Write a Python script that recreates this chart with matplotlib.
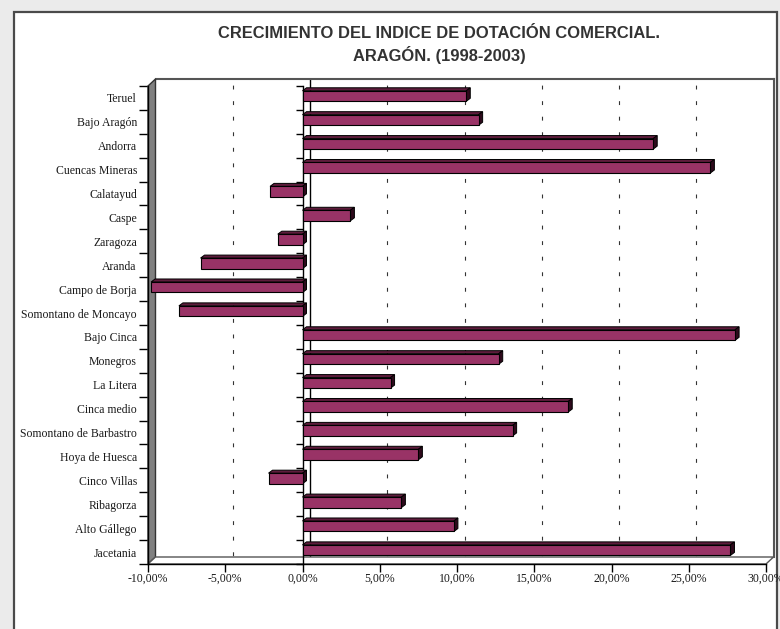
import numpy as np
import matplotlib
matplotlib.use("Agg")
import matplotlib.pyplot as plt
from matplotlib.patches import Polygon, Rectangle

# Data: growth of the commercial endowment index by comarca (%)
comarcas = ["Teruel", "Bajo Aragón", "Andorra", "Cuencas Mineras", "Calatayud", "Caspe",
            "Zaragoza", "Aranda", "Campo de Borja", "Somontano de Moncayo", "Bajo Cinca",
            "Monegros", "La Litera", "Cinca medio", "Somontano de Barbastro",
            "Hoya de Huesca", "Cinco Villas", "Ribagorza", "Alto Gállego", "Jacetania"]
crecimiento = [10.6, 11.4, 22.7, 26.4, -2.1, 3.1, -1.6, -6.6, -9.8, -8.0, 28.0,
               12.7, 5.7, 17.2, 13.6, 7.5, -2.2, 6.4, 9.8, 27.7]
x_ticks = [-10, -5, 0, 5, 10, 15, 20, 25, 30]
x_tick_labels = ["-10,00%", "-5,00%", "0,00%", "5,00%", "10,00%", "15,00%",
                 "20,00%", "25,00%", "30,00%"]
titulo = "CRECIMIENTO DEL INDICE DE DOTACIÓN COMERCIAL.\nARAGÓN. (1998-2003)"

W, H = 780, 629
fig = plt.figure(figsize=(W / 100, H / 100), dpi=100, facecolor="#ebebeb")


def fx(px):
    return px / W


def fy(py):
    return 1 - py / H


# white chart area with dark border
fig.add_artist(Rectangle((fx(14), fy(660)), fx(777 - 14), (660 - 12) / H,
                         transform=fig.transFigure, facecolor="white",
                         edgecolor="#4a4a4a", lw=1.6, zorder=0))

n = len(comarcas)
L, R, T, B = 148, 766, 86, 564   # front plane
DX, DY = 7.5, 7                  # depth of the 3-D box

# back wall
ax_back = fig.add_axes([fx(L + DX), fy(B - DY), fx(R - L), (B - T) / H])
ax_back.set_xlim(x_ticks[0], x_ticks[-1])
ax_back.set_ylim(0, 1)
ax_back.set_facecolor("white")
for s in ["left", "bottom"]:
    ax_back.spines[s].set_visible(False)
for s in ["top", "right"]:
    ax_back.spines[s].set_color("#555555")
    ax_back.spines[s].set_linewidth(1.5)
ax_back.set_xticks([])
ax_back.set_yticks([])
for t in x_ticks[1:-1]:
    if t == 0:
        ax_back.plot([t, t], [1, 0], color="black", lw=1)
    else:
        ax_back.plot([t, t], [1, 0], color="#333333", lw=0.8,
                     linestyle=(8.5, (3.5, 10.5)))

# front plane
ax = fig.add_axes([fx(L), fy(B), fx(R - L), (B - T) / H])
ax.set_xlim(x_ticks[0], x_ticks[-1])
ax.set_ylim(n - 0.5, -0.5)
ax.patch.set_visible(False)
for s in ["top", "right"]:
    ax.spines[s].set_visible(False)
for s in ["left", "bottom"]:
    ax.spines[s].set_color("black")
    ax.spines[s].set_linewidth(1)

lbl_font = dict(family="Liberation Serif", size=8.5)
ax.set_xticks(x_ticks)
ax.set_xticklabels(x_tick_labels, color="#1a1a1a", **lbl_font)
ax.tick_params(axis="x", length=6, width=1, direction="out", pad=0.5)
ax.set_yticks(np.arange(n))
ax.set_yticklabels(comarcas, color="#1a1a1a", **lbl_font)
ax.tick_params(axis="y", which="major", length=0, pad=8)
ax.set_yticks(np.arange(-0.5, n), minor=True)
ax.tick_params(axis="y", which="minor", length=6.5, width=1, direction="out")


def shifted(x, y, dx, dy):
    p = ax.transData.transform((x, y)) + np.array([dx, dy])
    return ax.transData.inverted().transform(p)


# left wall and floor
x0, x1 = x_ticks[0], x_ticks[-1]
y_top, y_bot = -0.5, n - 0.5
wall = Polygon([(x0, y_top), shifted(x0, y_top, DX, DY), shifted(x0, y_bot, DX, DY),
                (x0, y_bot)], closed=True, facecolor="#808080", edgecolor="#333333",
               lw=1, clip_on=False, zorder=2)
floor = Polygon([(x0, y_bot), (x1, y_bot), shifted(x1, y_bot, DX, DY),
                 shifted(x0, y_bot, DX, DY)], closed=True, facecolor="white",
                edgecolor="#555555", lw=1, clip_on=False, zorder=2)
ax.add_patch(wall)
ax.add_patch(floor)

# zero line on the front plane with its category ticks
ax.plot([0, 0], [y_top, y_bot], color="black", lw=1, zorder=2.5, clip_on=False)
ax.plot(np.zeros(n + 1), np.arange(-0.5, n), linestyle="none", marker=0,
        markersize=5, mew=1, color="black", clip_on=False, zorder=2.5)

# 3-D bars
bar_h = 0.44
centres = np.arange(n) - 0.08
ax.barh(centres, crecimiento, height=bar_h, color="#993366", edgecolor="black",
        lw=0.8, zorder=5)
BX, BY = 4, 3
for c, v in zip(centres, crecimiento):
    a, b = min(0, v), max(0, v)
    top, bot = c - bar_h / 2, c + bar_h / 2
    ax.add_patch(Polygon([(a, top), (b, top), shifted(b, top, BX, BY),
                          shifted(a, top, BX, BY)], closed=True,
                         facecolor="#5e1c3c", edgecolor="black", lw=0.7, zorder=4))
    ax.add_patch(Polygon([(b, top), (b, bot), shifted(b, bot, BX, BY),
                          shifted(b, top, BX, BY)], closed=True,
                         facecolor="#2e0a1c", edgecolor="black", lw=0.7, zorder=4))

fig.text(fx(439), fy(45), titulo, ha="center", va="center", fontsize=11.9,
         fontweight="bold", family=["Liberation Sans Narrow", "Liberation Sans"],
         color="#333333", linespacing=1.35)

fig.savefig("out.png", dpi=100, facecolor=fig.get_facecolor())
